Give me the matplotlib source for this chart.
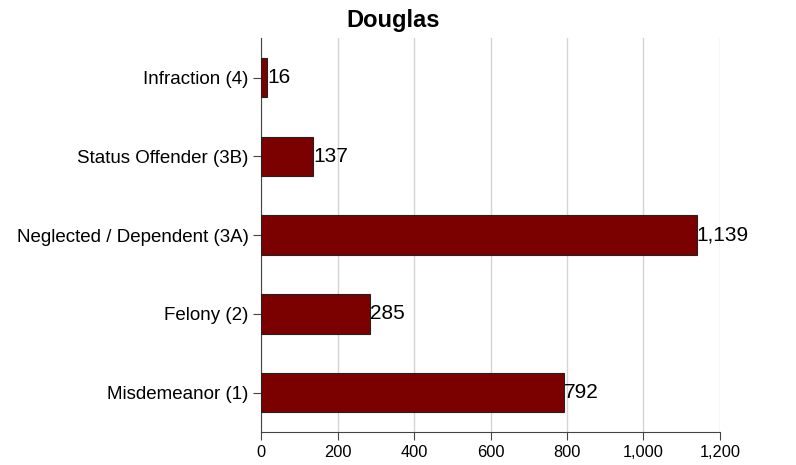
import matplotlib.pyplot as plt
from matplotlib.ticker import FuncFormatter

categories = ['Misdemeanor (1)', 'Felony (2)', 'Neglected / Dependent (3A)',
              'Status Offender (3B)', 'Infraction (4)']
counts = [792, 285, 1139, 137, 16]

plt.rcParams['font.family'] = ['Liberation Sans', 'DejaVu Sans']

fig = plt.figure(figsize=(7.96, 4.65), dpi=100)
ax = fig.add_axes([0.328, 0.071, 0.5765, 0.847])

ypos = list(range(len(categories)))
bars = ax.barh(ypos, counts, height=0.5, color='#7b0000',
               edgecolor='#222222', linewidth=0.8, zorder=3)

for y, v in zip(ypos, counts):
    ax.text(v, y, f'{v:,}', va='center', ha='left', fontsize=15, zorder=4)

ax.set_yticks(ypos)
ax.set_yticklabels(categories, fontsize=13.5)
ax.set_ylim(-0.5, 4.5)
ax.set_xlim(0, 1200)
ax.set_xticks(range(0, 1201, 200))
ax.xaxis.set_major_formatter(FuncFormatter(lambda x, p: f'{int(x):,}'))
ax.tick_params(axis='x', labelsize=11.8, length=6, color='#444444')
ax.tick_params(axis='y', length=6, pad=3, color='#444444')
ax.grid(axis='x', color='#d4d4d4', linewidth=1, zorder=0)

for side in ['top', 'right']:
    ax.spines[side].set_visible(False)
for side in ['left', 'bottom']:
    ax.spines[side].set_color('#444444')

# title is centred on the figure, not on the axes
fig.text(0.494, 0.942, 'Douglas', ha='center', va='baseline',
         fontsize=17, fontweight='bold')

fig.savefig('out.png', dpi=100)
